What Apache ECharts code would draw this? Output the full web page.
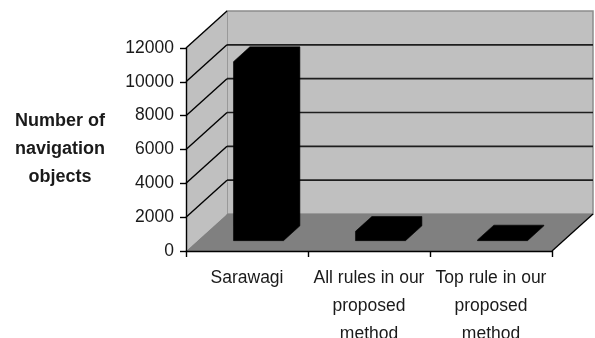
<!DOCTYPE html>
<html>
<head>
<meta charset="utf-8">
<script src="https://cdn.jsdelivr.net/npm/echarts@6/dist/echarts.min.js"></script>
<style>
  html, body { margin: 0; padding: 0; background: #fff; }
  #chart { width: 595px; height: 338px; }
</style>
</head>
<body>
<div id="chart"></div>
<script>
// Categories and values
const categories = ['Sarawagi', 'All rules in our\nproposed\nmethod', 'Top rule in our\nproposed\nmethod'];
const navigationObjects = [10580, 550, 40];
const yAxisTitle = 'Number of\nnavigation\nobjects';
const Y_MIN = 0;
const Y_MAX = 12000;
const Y_STEP = 2000;

// Pseudo-3D box geometry (pixels of depth offset, bar placement in depth)
const DEPTH_DX = 41;
const DEPTH_DY = -37;
const BAR_FRONT = 0.28;
const BAR_BACK = 0.68;
const BAR_WIDTH = 0.41;
const FONT = '"Liberation Sans", Arial, sans-serif';

const chart = echarts.init(document.getElementById('chart'), null, { renderer: 'canvas' });

function renderWalls(params, api) {
  const band = api.size([1, 0])[0];
  const x0 = api.coord([0, Y_MIN])[0] - band / 2;
  const x1 = api.coord([categories.length - 1, Y_MIN])[0] + band / 2;
  const yTop = api.coord([0, Y_MAX])[1];
  const yBot = api.coord([0, Y_MIN])[1];
  const dx = DEPTH_DX, dy = DEPTH_DY;
  const children = [];
  // back wall
  children.push({ type: 'polygon', shape: { points: [[x0 + dx, yTop + dy], [x1 + dx, yTop + dy], [x1 + dx, yBot + dy], [x0 + dx, yBot + dy]] },
    style: { fill: '#c0c0c0', stroke: '#8c8c8c', lineWidth: 1.5 } });
  // side wall
  children.push({ type: 'polygon', shape: { points: [[x0, yTop], [x0 + dx, yTop + dy], [x0 + dx, yBot + dy], [x0, yBot]] },
    style: { fill: '#c0c0c0' } });
  // floor
  children.push({ type: 'polygon', shape: { points: [[x0, yBot], [x1, yBot], [x1 + dx, yBot + dy], [x0 + dx, yBot + dy]] },
    style: { fill: '#808080' } });
  for (let v = Y_MIN + Y_STEP; v <= Y_MAX; v += Y_STEP) {
    const y = api.coord([0, v])[1];
    if (v < Y_MAX) {
      children.push({ type: 'line', shape: { x1: x0 + dx, y1: y + dy, x2: x1 + dx, y2: y + dy },
        style: { stroke: '#1e1e1e', lineWidth: 1.6 } });
    }
    children.push({ type: 'line', shape: { x1: x0, y1: y, x2: x0 + dx, y2: y + dy },
      style: { stroke: '#000', lineWidth: 1.4 } });
  }
  // floor right edge
  children.push({ type: 'line', shape: { x1: x1, y1: yBot, x2: x1 + dx, y2: yBot + dy },
    style: { stroke: '#000', lineWidth: 1.3 } });
  return { type: 'group', children };
}

// Each bar is one solid outline: front face, top face and right face together
function renderBar(params, api) {
  const idx = api.value(0);
  const val = api.value(1);
  const base = api.coord([idx, Y_MIN]);
  const top = api.coord([idx, val]);
  const w = api.size([1, 0])[0] * BAR_WIDTH;
  const fx = DEPTH_DX * BAR_FRONT, fy = DEPTH_DY * BAR_FRONT;
  const ddx = DEPTH_DX * (BAR_BACK - BAR_FRONT), ddy = DEPTH_DY * (BAR_BACK - BAR_FRONT);
  const xl = base[0] - w / 2 + fx, xr = xl + w;
  const yb = base[1] + fy, yt = top[1] + fy;
  return {
    type: 'polygon',
    shape: { points: [[xl, yb], [xl, yt], [xl + ddx, yt + ddy], [xr + ddx, yt + ddy], [xr + ddx, yb + ddy], [xr, yb]] },
    style: { fill: '#000', stroke: '#000', lineWidth: 0.6 }
  };
}

chart.setOption({
  animation: false,
  backgroundColor: '#fff',
  grid: { left: 186, right: 43, top: 48, bottom: 87, containLabel: false, outerBoundsMode: 'none' },
  xAxis: {
    type: 'category',
    data: categories,
    boundaryGap: true,
    z: 10,
    axisLine: { show: true, lineStyle: { color: '#000', width: 1.4 } },
    axisTick: { show: true, length: 6, interval: 0, lineStyle: { color: '#000', width: 1.4 } },
    axisLabel: { interval: 0, margin: 13, color: '#1a1a1a', fontFamily: FONT, fontSize: 17.5, lineHeight: 28 },
    splitLine: { show: false }
  },
  yAxis: {
    type: 'value',
    min: Y_MIN,
    max: Y_MAX,
    interval: Y_STEP,
    z: 10,
    name: yAxisTitle,
    nameLocation: 'middle',
    nameRotate: 0,
    nameGap: 126,
    nameTextStyle: { align: 'center', verticalAlign: 'middle', color: '#1a1a1a', fontFamily: FONT, fontSize: 18, fontWeight: 'bold', lineHeight: 28, padding: [6, 0, 0, 0] },
    axisLine: { show: true, lineStyle: { color: '#000', width: 1.4 } },
    axisTick: { show: true, length: 6, lineStyle: { color: '#000', width: 1.4 } },
    axisLabel: { margin: 12, color: '#1a1a1a', fontFamily: FONT, fontSize: 17.5, formatter: (v) => String(v) },
    splitLine: { show: false }
  },
  series: [
    {
      type: 'custom',
      name: 'walls',
      renderItem: renderWalls,
      data: [[0, Y_MIN]],
      encode: { x: 0, y: 1 },
      clip: false,
      silent: true,
      z: 1
    },
    {
      type: 'custom',
      name: 'Number of navigation objects',
      renderItem: renderBar,
      data: navigationObjects.map((v, i) => [i, v]),
      encode: { x: 0, y: 1 },
      clip: false,
      z: 3
    }
  ]
});
</script>
</body>
</html>
